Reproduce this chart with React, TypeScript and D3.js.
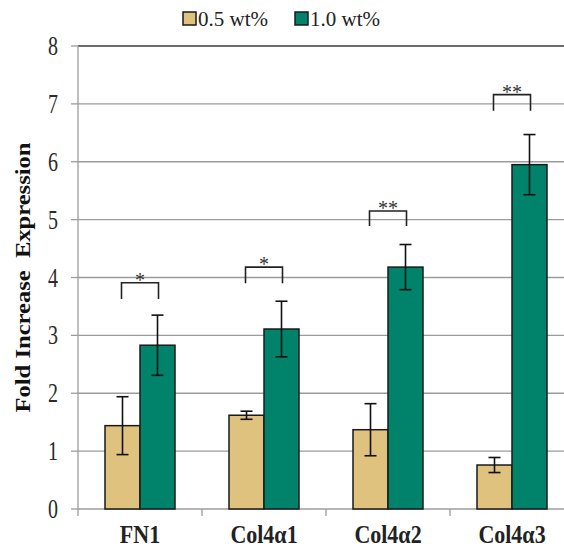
import * as d3 from "d3";
import { useRef, useEffect } from "react";

const genes = ["FN1", "Col4\u03b11", "Col4\u03b12", "Col4\u03b13"];
const seriesNames = ["0.5 wt%", "1.0 wt%"];
const low = [1.44, 1.62, 1.37, 0.76];
const lowErr = [0.5, 0.07, 0.45, 0.13];
const high = [2.83, 3.11, 4.18, 5.95];
const highErr = [0.52, 0.48, 0.39, 0.52];
const stars = ["*", "*", "**", "**"];
const bracketTop = [3.91, 4.18, 5.15, 7.16];
const bracketLeg = [3.63, 3.9, 4.89, 6.88];
const yTicks = [0, 1, 2, 3, 4, 5, 6, 7, 8];

const colors = ["#dfc27d", "#01826b"];
const font = "'Liberation Serif', 'Times New Roman', serif";

const App = () => {
  const ref = useRef<SVGSVGElement>(null);

  useEffect(() => {
    const svg = d3.select(ref.current);
    svg.selectAll("*").remove();

    const left = 78;
    const top = 46;
    const bottom = 509;
    const bandW = 124;

    const x = d3
      .scaleBand()
      .domain(genes)
      .range([left, left + bandW * genes.length])
      .paddingInner(0)
      .paddingOuter(0);
    const y = d3.scaleLinear().domain([0, 8]).range([bottom, top]);
    const barW = 35;
    const cx = (g: string) => (x(g) as number) + x.bandwidth() / 2;

    // gridlines
    svg
      .append("g")
      .selectAll("line")
      .data(yTicks.filter((t) => t > 0))
      .join("line")
      .attr("x1", left)
      .attr("x2", 564)
      .attr("y1", (d) => y(d))
      .attr("y2", (d) => y(d))
      .attr("stroke", (d) => (d === 8 ? "#3a3a3a" : "#9c9c9c"))
      .attr("stroke-width", (d) => (d === 8 ? 1.5 : 1.3));

    // y axis
    const yAxis = svg.append("g");
    yAxis
      .append("line")
      .attr("x1", left)
      .attr("x2", left)
      .attr("y1", top)
      .attr("y2", bottom)
      .attr("stroke", "#9c9c9c")
      .attr("stroke-width", 1.3);
    yAxis
      .selectAll("line.tick")
      .data(yTicks)
      .join("line")
      .attr("class", "tick")
      .attr("x1", left - 7)
      .attr("x2", left)
      .attr("y1", (d) => y(d))
      .attr("y2", (d) => y(d))
      .attr("stroke", "#9c9c9c")
      .attr("stroke-width", 1.3);
    yAxis
      .selectAll("text")
      .data(yTicks)
      .join("text")
      .attr("transform", (d) => `translate(58,${y(d) + 9}) scale(1,1.35)`)
      .attr("text-anchor", "end")
      .attr("font-family", font)
      .attr("font-size", 20)
      .attr("fill", "#2a2a2a")
      .text((d) => d);

    svg
      .append("text")
      .attr("transform", `translate(30,${(top + bottom) / 2}) rotate(-90)`)
      .attr("text-anchor", "middle")
      .attr("font-family", font)
      .attr("font-weight", "bold")
      .attr("font-size", 20)
      .attr("textLength", 270)
      .attr("lengthAdjust", "spacingAndGlyphs")
      .attr("fill", "#111")
      .attr("xml:space", "preserve")
      .text("Fold Increase  Expression");

    // x axis
    svg
      .append("line")
      .attr("x1", left)
      .attr("x2", 564)
      .attr("y1", bottom)
      .attr("y2", bottom)
      .attr("stroke", "#9c9c9c")
      .attr("stroke-width", 1.3);
    svg
      .append("g")
      .selectAll("line")
      .data(genes)
      .join("line")
      .attr("x1", (d) => x(d) as number)
      .attr("x2", (d) => x(d) as number)
      .attr("y1", bottom)
      .attr("y2", bottom + 7)
      .attr("stroke", "#9c9c9c")
      .attr("stroke-width", 1.3);
    svg
      .append("g")
      .selectAll("text")
      .data(genes)
      .join("text")
      .attr("transform", (d) => `translate(${cx(d)},543) scale(1,1.1)`)
      .attr("text-anchor", "middle")
      .attr("font-family", font)
      .attr("font-weight", "bold")
      .attr("font-size", 22)
      .attr("fill", "#222")
      .text((d) => d);

    // bars
    const series = [
      { vals: low, errs: lowErr, off: -barW },
      { vals: high, errs: highErr, off: 0 },
    ];
    series.forEach((s, si) => {
      const g = svg.append("g");
      g.selectAll("rect")
        .data(genes)
        .join("rect")
        .attr("x", (d) => cx(d) + s.off)
        .attr("y", (_, i) => y(s.vals[i]))
        .attr("width", barW)
        .attr("height", (_, i) => bottom - y(s.vals[i]))
        .attr("fill", colors[si])
        .attr("stroke", "#1a1a1a")
        .attr("stroke-width", 1.5);
      const eg = g
        .selectAll("g.err")
        .data(genes)
        .join("g")
        .attr("class", "err");
      const ex = (d: string) => cx(d) + s.off + barW / 2;
      eg.append("line")
        .attr("x1", ex)
        .attr("x2", ex)
        .attr("y1", (_, i) => y(s.vals[i] + s.errs[i]))
        .attr("y2", (_, i) => y(s.vals[i] - s.errs[i]))
        .attr("stroke", "#111")
        .attr("stroke-width", 1.6);
      [1, -1].forEach((sign) => {
        eg.append("line")
          .attr("x1", (d) => ex(d) - 6)
          .attr("x2", (d) => ex(d) + 6)
          .attr("y1", (_, i) => y(s.vals[i] + sign * s.errs[i]))
          .attr("y2", (_, i) => y(s.vals[i] + sign * s.errs[i]))
          .attr("stroke", "#111")
          .attr("stroke-width", 1.6);
      });
    });

    // significance brackets
    const bg = svg
      .append("g")
      .selectAll("g")
      .data(genes)
      .join("g");
    bg.append("path")
      .attr("d", (d, i) => {
        const x1 = cx(d) - barW / 2 - 1;
        const x2 = cx(d) + barW / 2 + 1;
        return `M${x1},${y(bracketLeg[i])}V${y(bracketTop[i])}H${x2}V${y(bracketLeg[i])}`;
      })
      .attr("fill", "none")
      .attr("stroke", "#222")
      .attr("stroke-width", 1.6);
    bg.append("text")
      .attr("x", (d) => cx(d))
      .attr("y", (_, i) => y(bracketTop[i]) + 4)
      .attr("text-anchor", "middle")
      .attr("font-family", font)
      .attr("font-size", 20)
      .attr("fill", "#333")
      .text((_, i) => stars[i]);

    // legend
    const lg = svg
      .append("g")
      .selectAll("g")
      .data(seriesNames)
      .join("g")
      .attr("transform", (_, i) => `translate(${183 + i * 112},12)`);
    lg.append("rect")
      .attr("width", 13)
      .attr("height", 13)
      .attr("fill", (_, i) => colors[i])
      .attr("stroke", "#1a1a1a")
      .attr("stroke-width", 1.5);
    lg.append("text")
      .attr("x", 15)
      .attr("y", 14)
      .attr("font-family", font)
      .attr("font-size", 21)
      .attr("fill", "#222")
      .text((d) => d);
  }, []);

  return (
    <svg
      ref={ref}
      width={564}
      height={549}
      style={{ position: "absolute", left: 0, top: 0, background: "#fff" }}
    />
  );
};

export default App;
